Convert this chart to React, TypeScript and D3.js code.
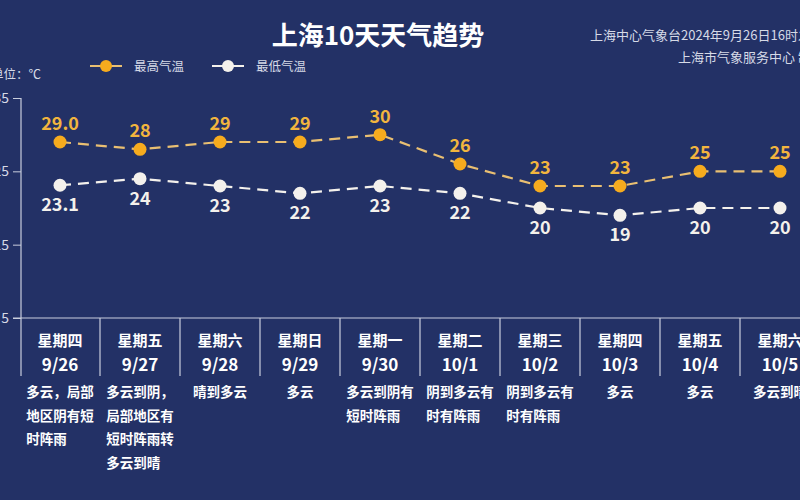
import { useEffect, useRef } from "react";
import * as d3 from "d3";

const weekdays = ["星期四", "星期五", "星期六", "星期日", "星期一", "星期二", "星期三", "星期四", "星期五", "星期六"];
const dates = ["9/26", "9/27", "9/28", "9/29", "9/30", "10/1", "10/2", "10/3", "10/4", "10/5"];
const highs = [29.0, 28, 29, 29, 30, 26, 23, 23, 25, 25];
const highLabels = ["29.0", "28", "29", "29", "30", "26", "23", "23", "25", "25"];
const lows = [23.1, 24, 23, 22, 23, 22, 20, 19, 20, 20];
const lowLabels = ["23.1", "24", "23", "22", "23", "22", "20", "19", "20", "20"];
const weather = [
  ["多云，局部", "地区阴有短", "时阵雨"],
  ["多云到阴，", "局部地区有", "短时阵雨转", "多云到晴"],
  ["晴到多云"],
  ["多云"],
  ["多云到阴有", "短时阵雨"],
  ["阴到多云有", "时有阵雨"],
  ["阴到多云有", "时有阵雨"],
  ["多云"],
  ["多云"],
  ["多云到晴"],
];
const yTicks = [5, 15, 25, 35];

const FONT = "'Noto Sans CJK SC', 'Noto Sans', sans-serif";
const BG = "#233166";
const ORANGE = "#f6ab1e";
const ORANGE_LINE = "#e9bf72";
const ORANGE_TEXT = "#f2b53e";
const WHITE = "#f4f1ec";
const GREY = "#d6dae6";

const App = () => {
  const ref = useRef<SVGSVGElement>(null);

  useEffect(() => {
    const svg = d3.select(ref.current);
    svg.selectAll("*").remove();

    svg.append("rect").attr("width", 800).attr("height", 500).attr("fill", BG);

    const x = d3.scaleBand<string>().domain(dates).range([20, 820]);
    const cx = (d: string) => (x(d) as number) + x.bandwidth() / 2;
    const y = d3.scaleLinear().domain([5, 35]).range([318, 98]);

    // title
    svg.append("text").attr("x", 378).attr("y", 45).attr("text-anchor", "middle")
      .attr("font-family", FONT).attr("font-size", 26).attr("font-weight", "bold")
      .attr("fill", "#ffffff").text("上海10天天气趋势");

    svg.append("text").attr("x", 590).attr("y", 40)
      .attr("font-family", FONT).attr("font-size", 13).attr("fill", GREY)
      .text("上海中心气象台2024年9月26日16时发布");
    svg.append("text").attr("x", 678).attr("y", 62)
      .attr("font-family", FONT).attr("font-size", 13).attr("fill", GREY)
      .text("上海市气象服务中心 制作");

    // legend
    const legend = [
      { label: "最高气温", color: ORANGE, line: ORANGE_LINE, x: 90 },
      { label: "最低气温", color: WHITE, line: WHITE, x: 212 },
    ];
    legend.forEach((l) => {
      svg.append("line").attr("x1", l.x).attr("x2", l.x + 32).attr("y1", 66).attr("y2", 66)
        .attr("stroke", l.line).attr("stroke-width", 2);
      svg.append("circle").attr("cx", l.x + 16).attr("cy", 66).attr("r", 6).attr("fill", l.color);
      svg.append("text").attr("x", l.x + 44).attr("y", 70.5)
        .attr("font-family", FONT).attr("font-size", 12.5).attr("fill", GREY).text(l.label);
    });

    svg.append("text").attr("x", -9).attr("y", 79)
      .attr("font-family", FONT).attr("font-size", 12.5).attr("fill", GREY).text("单位：℃");

    // y axis
    const axis = svg.append("g").attr("transform", "translate(21,0)")
      .call(d3.axisLeft(y).tickValues(yTicks).tickSize(8).tickPadding(4));
    axis.select(".domain").remove();
    axis.selectAll("line").attr("stroke", "#c9cedd");
    axis.selectAll("text").attr("fill", GREY).attr("font-size", 14).attr("font-family", FONT);

    svg.append("line").attr("x1", 21).attr("x2", 21).attr("y1", 98).attr("y2", 376)
      .attr("stroke", "#c9cedd").attr("stroke-width", 1.2);
    svg.append("line").attr("x1", 13).attr("x2", 800).attr("y1", 318).attr("y2", 318)
      .attr("stroke", "#c9cedd").attr("stroke-width", 1.2);

    // column dividers
    svg.selectAll(".div").data(dates.slice(1)).enter().append("line")
      .attr("x1", (d) => x(d) as number).attr("x2", (d) => x(d) as number)
      .attr("y1", 318).attr("y2", 376).attr("stroke", "#c9cedd").attr("stroke-width", 1.2);

    // header cells
    dates.forEach((d, i) => {
      svg.append("text").attr("x", cx(d)).attr("y", 346).attr("text-anchor", "middle")
        .attr("font-family", FONT).attr("font-size", 15).attr("font-weight", "bold")
        .attr("fill", "#ffffff").text(weekdays[i]);
      svg.append("text").attr("x", cx(d)).attr("y", 371).attr("text-anchor", "middle")
        .attr("font-family", FONT).attr("font-size", 17).attr("font-weight", "bold")
        .attr("fill", "#ffffff").text(d);
      const lines = weather[i];
      const fs = 13.5;
      const maxLen = d3.max(lines, (l) => l.length) as number;
      const startX = cx(d) - (maxLen * fs) / 2;
      lines.forEach((l, j) => {
        svg.append("text").attr("x", startX).attr("y", 397 + j * 23.5)
          .attr("font-family", FONT).attr("font-size", fs).attr("font-weight", "bold")
          .attr("fill", "#ffffff").text(l);
      });
    });

    // lines
    const series = [
      { values: highs, labels: highLabels, color: ORANGE, line: ORANGE_LINE, text: ORANGE_TEXT, dy: -12 },
      { values: lows, labels: lowLabels, color: WHITE, line: WHITE, text: WHITE, dy: 26 },
    ];
    series.forEach((s) => {
      const line = d3.line<number>().x((_, i) => cx(dates[i])).y((v) => y(v));
      svg.append("path").datum(s.values).attr("d", line).attr("fill", "none")
        .attr("stroke", s.line).attr("stroke-width", 2.2).attr("stroke-dasharray", "11,7");
      svg.selectAll(null).data(s.values).enter().append("circle")
        .attr("cx", (_, i) => cx(dates[i])).attr("cy", (v) => y(v)).attr("r", 6.5)
        .attr("fill", s.color);
      svg.selectAll(null).data(s.values).enter().append("text")
        .attr("x", (_, i) => cx(dates[i])).attr("y", (v) => y(v) + s.dy)
        .attr("text-anchor", "middle").attr("font-family", FONT).attr("font-size", 18)
        .attr("font-weight", "bold").attr("fill", s.text)
        .text((_, i) => s.labels[i]);
    });
  }, []);

  return (
    <svg ref={ref} width={800} height={500}
      style={{ position: "absolute", left: 0, top: 0, display: "block" }} />
  );
};

export default App;
